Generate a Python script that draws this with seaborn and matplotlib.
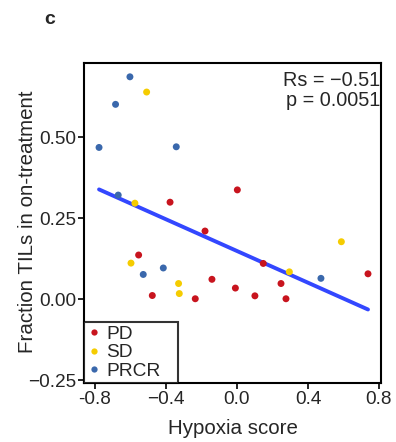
import matplotlib
matplotlib.use('Agg')
import matplotlib.pyplot as plt
import pandas as pd
import numpy as np
import seaborn as sns

# data
pd_x = [0.002, -0.377, -0.180, -0.554, -0.477, -0.235, -0.141, -0.009, 0.101, 0.148, 0.248, 0.276, 0.738]
pd_y = [0.337, 0.299, 0.210, 0.136, 0.011, 0.001, 0.061, 0.034, 0.010, 0.110, 0.048, 0.001, 0.078]
sd_x = [-0.509, -0.575, -0.597, -0.329, -0.325, 0.295, 0.588]
sd_y = [0.639, 0.296, 0.111, 0.048, 0.017, 0.084, 0.177]
prcr_x = [-0.603, -0.684, -0.777, -0.342, -0.669, -0.528, -0.415, 0.473]
prcr_y = [0.686, 0.601, 0.468, 0.470, 0.321, 0.076, 0.096, 0.064]

groups = ['PD', 'SD', 'PRCR']
colors = ['#c8141e', '#f5cc00', '#3a68ac']
x_ticks = [-0.8, -0.4, 0.0, 0.4, 0.8]
x_ticklabels = ['-0.8', '\u22120.4', '0.0', '0.4', '0.8']
y_ticks = [-0.25, 0.0, 0.25, 0.50]
y_ticklabels = ['\u22120.25', '0.00', '0.25', '0.50']

table = pd.DataFrame({
    'x': pd_x + sd_x + prcr_x,
    'y': pd_y + sd_y + prcr_y,
    'group': ['PD'] * len(pd_x) + ['SD'] * len(sd_x) + ['PRCR'] * len(prcr_x),
})

sns.set_style('white')
plt.rcParams['font.family'] = ['Liberation Sans', 'DejaVu Sans']

fig = plt.figure(figsize=(3.96, 4.42), dpi=100)
ax = fig.add_axes([0.212, 0.1335, 0.75, 0.7235])

sns.regplot(data=table, x='x', y='y', scatter=False, ci=None, ax=ax,
            line_kws={'color': '#3347ff', 'lw': 2.8})
sns.scatterplot(data=table, x='x', y='y', hue='group', hue_order=groups,
                palette=colors, s=25, edgecolor='none', ax=ax, zorder=3)

ax.set_xlim(-0.862, 0.811)
ax.set_ylim(-0.259, 0.728)
ax.set_xticks(x_ticks)
ax.set_xticklabels(x_ticklabels)
ax.set_yticks(y_ticks)
ax.set_yticklabels(y_ticklabels)
ax.tick_params(direction='out', length=4.5, width=1.2, labelsize=13.7, color='black',
               bottom=True, left=True, pad=1)
for s in ax.spines.values():
    s.set_color('black')
    s.set_linewidth(1.5)

ax.set_xlabel('Hypoxia score', fontsize=14.8, labelpad=8.5)
ax.set_ylabel('Fraction TILs in on-treatment', fontsize=14.8)
ax.yaxis.set_label_coords(-0.158, 0.505)

ax.text(0.997, 0.975, 'Rs = \u22120.51\np = 0.0051', transform=ax.transAxes,
        ha='right', va='top', fontsize=14.3, linespacing=1.05)

leg = ax.legend(loc='lower left', bbox_to_anchor=(0, 0, 0.316, 0.2), mode='expand',
                frameon=True, fancybox=False,
                fontsize=13.8, handletextpad=0.2, borderpad=0.15, labelspacing=0.07,
                handlelength=0.8, borderaxespad=0, markerscale=0.9)
leg.get_frame().set_edgecolor('black')
leg.get_frame().set_linewidth(1.5)

fig.text(0.113, 0.975, 'c', fontsize=14, fontweight='bold', va='top')

fig.savefig('out.png', dpi=100)
